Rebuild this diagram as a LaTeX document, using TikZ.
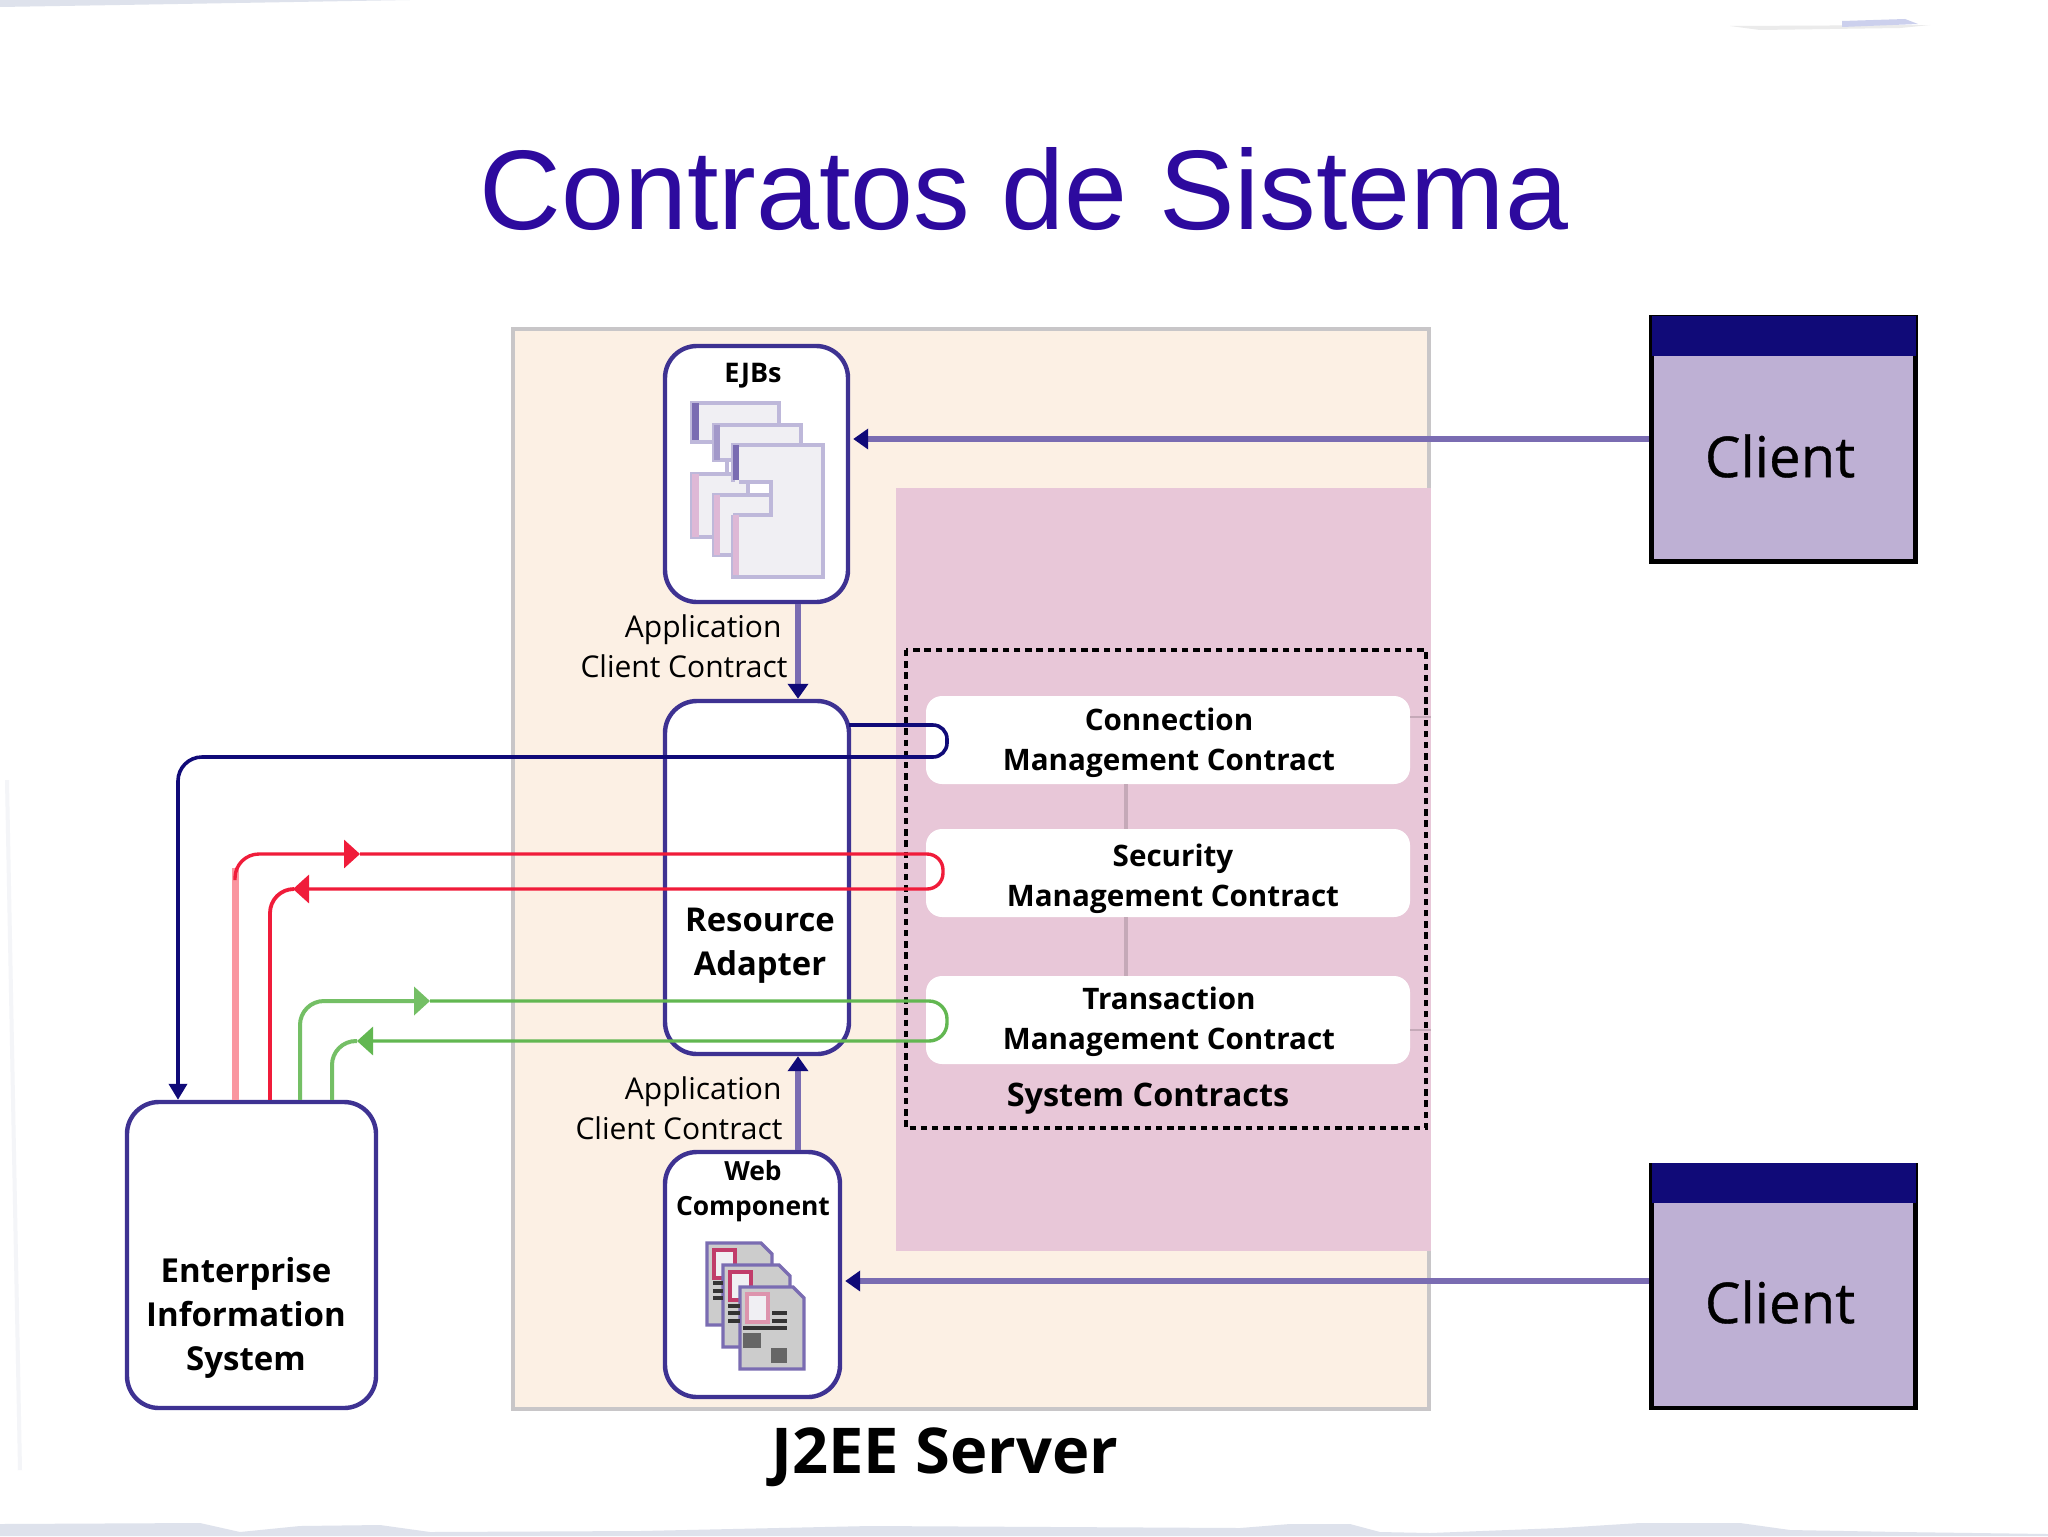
\documentclass[tikz,border=0pt]{standalone}
\usepackage{fontspec}
\setmainfont{Open Sans}
\newfontfamily\titlefont{Liberation Sans}
\newfontfamily\clientfont[FakeBold=0.6]{Open Sans}
\usetikzlibrary{arrows.meta, positioning}
\definecolor{titlecolor}{RGB}{45,10,158}
\definecolor{servercolor}{RGB}{252,240,228}
\definecolor{serveredge}{RGB}{200,198,200}
\definecolor{contractcolor}{RGB}{232,199,216}
\definecolor{navycolor}{RGB}{16,10,120}
\definecolor{boxedge}{RGB}{62,50,146}
\definecolor{linkcolor}{RGB}{122,108,178}
\definecolor{clientcolor}{RGB}{190,176,212}
\definecolor{redcolor}{RGB}{240,28,58}
\definecolor{palered}{RGB}{250,150,160}
\definecolor{greencolor}{RGB}{70,170,50}
\definecolor{palegreen}{RGB}{170,220,160}
\definecolor{sheetcolor}{RGB}{240,239,243}
\definecolor{sheetedge}{RGB}{190,184,218}
\definecolor{pinkstrip}{RGB}{222,184,214}
\definecolor{smudge}{RGB}{222,226,236}

\begin{document}
\begin{tikzpicture}[
    x=0.5pt, y=-0.5pt,
    roundbox/.style={rectangle, draw=boxedge, line width=2.2pt, fill=white, rounded corners=16pt, inner sep=0pt, align=center},
    contract/.style={rectangle, fill=white, rounded corners=8pt, minimum width=242pt, minimum height=44pt, inner sep=0pt},
    contractlabel/.style={align=center, inner sep=0pt, font=\bfseries\fontsize{14.8}{20}\selectfont},
    clientbox/.style={rectangle, draw=black, line width=2.2pt, fill=clientcolor, minimum width=132pt, minimum height=122pt, inner sep=0pt},
    clienthead/.style={rectangle, fill=navycolor, minimum width=132pt, minimum height=20pt, inner sep=0pt},
    clientname/.style={font=\clientfont\fontsize{28.2}{36}\selectfont, inner sep=0pt},
    label/.style={font=\fontsize{15}{20}\selectfont, align=right, inner sep=0pt},
    boldlabel/.style={align=center, inner sep=0pt},
    divider/.style={draw=contractcolor!85!black, line width=2.4pt},
    link/.style={draw=linkcolor, line width=3pt},
    linktip/.style={-{Triangle[length=7.5pt, width=10pt, color=navycolor]}},
    tiplarge/.style={-{Triangle[length=8pt, width=14pt]}},
    sheet/.style={draw=sheetedge, line width=1.8pt},
    webdoc/.style={draw=linkcolor, line width=1.6pt, fill=black!20},
    webframe/.style={draw=redcolor!60!linkcolor, line width=2pt, fill=sheetcolor}
]

% Page edges
\useasboundingbox (0,0) rectangle (2048,1536);
\fill[white] (0,0) rectangle (2048,1536);
\fill[smudge] (0,1524) -- (200,1523) -- (240,1532) -- (300,1526) -- (380,1525) -- (430,1532) -- (640,1531) -- (870,1526) -- (1240,1528) -- (1290,1524) -- (1350,1524) -- (1380,1532) -- (1430,1533) -- (1560,1528) -- (1640,1523) -- (1740,1523) -- (1790,1530) -- (1900,1532) -- (2048,1534) -- (2048,1536) -- (0,1536) -- cycle;
\fill[smudge] (0,0) -- (410,0) -- (120,5) -- (0,7) -- cycle;
\fill[black!8] (1730,26) -- (1930,25) -- (1900,28) -- (1760,30) -- cycle;
\fill[blue!8!smudge] (1842,21) -- (1905,19) -- (1918,24) -- (1842,27) -- cycle;
\fill[smudge!35] (5,780) -- (9,780) -- (22,1470) -- (18,1470) -- cycle;

% Title
\node[font=\titlefont\fontsize{56.6}{60}\selectfont, text=titlecolor, inner sep=0pt] (title) at (1024,189) {Contratos de Sistema};

% Server and contract areas
\node[rectangle, draw=serveredge, line width=2.2pt, fill=servercolor, minimum width=458pt, minimum height=540pt, inner sep=0pt] (server) at (971,869) {};
\node[rectangle, fill=contractcolor, minimum width=267.5pt, minimum height=381.5pt, inner sep=0pt] (area) at (1163.5,869.5) {};
\node[font=\bfseries\fontsize{31.6}{36}\selectfont, inner sep=0pt] (serverlabel) at (945,1457) {J2EE Server};

% Contracts
\node[contract] (connection) at (1168,740) {};
\node[contract] (security) at (1168,873) {};
\node[contract] (transaction) at (1168,1020) {};
\node[contractlabel] (connectiontext) at (1169,743) {Connection\\Management Contract};
\node[contractlabel] (securitytext) at (1173,879) {Security\\Management Contract};
\node[contractlabel] (transactiontext) at (1169,1022) {Transaction\\Management Contract};
\draw[divider] (connection.south -| 1126,0) -- (security.north -| 1126,0);
\draw[divider] (security.south -| 1126,0) -- (transaction.north -| 1126,0);
\draw[divider, line width=1.2pt] (connection.east |- 0,717) -- (1431,717);
\draw[divider, line width=1.2pt] (transaction.east |- 0,1030) -- (1431,1030);
\node[font=\bfseries\fontsize{16.2}{20}\selectfont, inner sep=0pt] (syslabel) at (1148,1099) {System Contracts};
\draw[line width=1.6pt, dash pattern=on 3.2pt off 2.4pt] (906,650) rectangle (1426,1128);

% Containers
\node[roundbox, minimum width=91.5pt, minimum height=128pt] (ejb) at (756.5,474) {};
\node[roundbox, minimum width=92pt, minimum height=176.5pt] (adapter) at (757,877.5) {};
\node[roundbox, minimum width=87.5pt, minimum height=122.5pt] (web) at (752.5,1274.5) {};
\node[roundbox, minimum width=124.5pt, minimum height=153pt] (eis) at (251.5,1255) {};

% Clients
\node[clientbox] (client1) at (1783.5,439.5) {};
\node[clienthead, below=0pt of client1.north] (head1) {};
\node[clientname] (name1) at (1780,456) {Client};
\node[clientbox, minimum height=121.5pt] (client2) at (1783.5,1286.5) {};
\node[clienthead, below=0pt of client2.north] (head2) {};
\node[clientname] (name2) at (1780,1302) {Client};

% Box labels
\node[font=\bfseries\fontsize{13.5}{14}\selectfont, inner sep=0pt] (ejblabel) at (753,376) {EJBs};
\node[boldlabel, font=\bfseries\fontsize{16.4}{22}\selectfont] (adapterlabel) at (760,946) {Resource\\Adapter};
\node[boldlabel, font=\bfseries\fontsize{13.2}{17.5}\selectfont] (weblabel) at (753,1191) {Web\\Component};
\node[boldlabel, font=\bfseries\fontsize{16.5}{22}\selectfont] (eislabel) at (246,1318) {Enterprise\\Information\\System};
\node[label] (applabel1) at (684,646) {Application\kern3pt\\Client Contract};
\node[label] (applabel2) at (679,1108) {Application\kern0.5pt\\Client Contract};

% EJB icon
\draw[sheet, fill=sheetcolor] (692,403) rectangle (779,442);
\fill[linkcolor] (692,403) rectangle (699,440);
\draw[sheet, fill=sheetcolor] (714,425) rectangle (801,460);
\fill[linkcolor!70] (714,425) rectangle (720,460);
\draw[sheet, fill=sheetcolor] (692,474) rectangle (748,537);
\draw[sheet] (727,474) -- (727,460);
\fill[pinkstrip] (692,474) rectangle (699,537);
\draw[sheet, fill=sheetcolor] (714,495) rectangle (771,555);
\fill[pinkstrip] (714,495) rectangle (720,555);
\fill[sheetcolor] (733,445) -- (823,445) -- (823,577) -- (733,577) -- (733,515) -- (771,515) -- (771,482) -- (733,482) -- cycle;
\draw[sheet] (733,482) -- (733,445) -- (823,445) -- (823,577) -- (733,577) -- (733,515);
\draw[sheet] (739,482) -- (771,482) -- (771,515) -- (733,515);
\fill[linkcolor] (733,445) rectangle (739,480);
\fill[pinkstrip] (733,515) rectangle (739,575);

% Web icon
\foreach \xa/\ya/\xb/\yb/\tone in {707/1243/772/1325/100, 723/1265/790/1347/100, 740/1287/804/1369/55} {
    \draw[webdoc] (\xa,\ya) -- (\xb-11,\ya) -- (\xb,\ya+11) -- (\xb,\yb) -- (\xa,\yb) -- cycle;
    \draw[webframe, draw=redcolor!60!linkcolor!\tone] (\xa+7,\ya+7) rectangle (\xa+28,\ya+35);
}
\foreach \xa/\xb/\ya in {713/723/1283, 713/723/1291, 713/723/1298, 728/740/1306, 728/740/1313, 728/740/1321, 772/787/1313, 772/787/1321, 743/787/1328}
    \draw[black!80, line width=1.6pt] (\xa,\ya) -- (\xb,\ya);
\fill[black!60] (743,1333) rectangle (761,1348);
\fill[black!60] (771,1348) rectangle (787,1363);

% Arrows to the containers
\draw[link, linktip, shorten >=1.5pt] (client1.west |- 0,439) -- (ejb.east |- 0,439);
\draw[link, linktip, shorten >=1.5pt] (client2.west |- 0,1281) -- (web.east |- 0,1281);
\draw[link, linktip] (ejb.south -| 798,0) -- (adapter.north -| 798,0);
\draw[link, linktip] (web.north -| 798,0) -- (adapter.south -| 798,0);

% Contract loops
\coordinate (blueout) at (849,725);
\coordinate (redtip) at (360,854);
\coordinate (redback) at (293,889);
\coordinate (greentip) at (430,1001);
\coordinate (greenback) at (357,1041);

\draw[navycolor, line width=1.8pt, rounded corners=7pt, -{Triangle[length=8pt, width=9pt]}]
    (blueout) -- (947,725) -- (947,757) [rounded corners=12pt] -- (178,757) -- (eis.north -| 178,0);

\draw[palered, line width=3.5pt] (eis.north -| 235,0) -- (235,868);
\draw[redcolor, line width=1.7pt, rounded corners=12pt, tiplarge]
    (235,880) -- (235,854) -- (redtip);
\draw[redcolor, line width=1.7pt, rounded corners=8pt, tiplarge]
    (redtip) -- (943,854) -- (943,889) -- (redback);
\draw[redcolor, line width=1.9pt, rounded corners=12pt]
    (redback) -- (270,889) -- (eis.north -| 270,0);

\draw[greencolor!75, line width=2pt, rounded corners=12pt, tiplarge]
    (eis.north -| 300,0) -- (300,1001) -- (greentip);
\draw[greencolor!85, line width=1.7pt, rounded corners=9pt, tiplarge]
    (greentip) -- (947,1001) -- (947,1041) -- (greenback);
\draw[greencolor!75, line width=2pt, rounded corners=12pt]
    (greenback) -- (332,1041) -- (eis.north -| 332,0);

\end{tikzpicture}
\end{document}
